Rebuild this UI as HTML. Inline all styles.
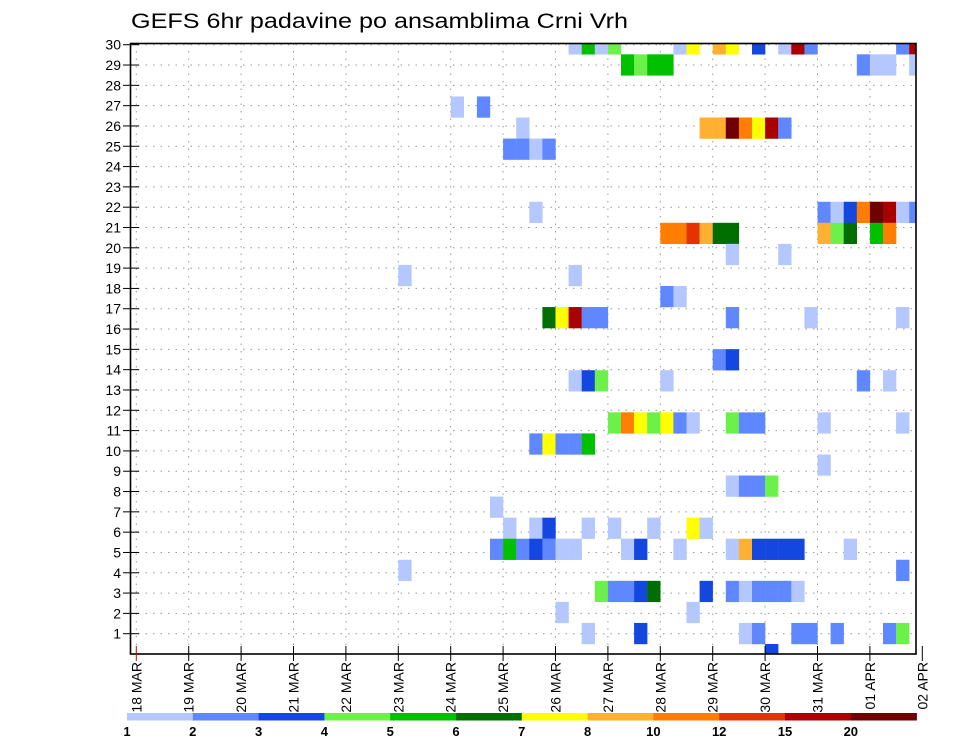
<!DOCTYPE html>
<html><head><meta charset="utf-8"><style>
html,body{margin:0;padding:0;background:#fff;}
svg{display:block;font-family:"Liberation Sans",sans-serif;}
</style></head><body>
<svg id="chart" width="960" height="742" viewBox="0 0 960 742" xmlns="http://www.w3.org/2000/svg">
<text x="131" y="28" font-size="21" textLength="497" lengthAdjust="spacingAndGlyphs" fill="#000">GEFS 6hr padavine po ansamblima Crni Vrh</text>
<defs><clipPath id="plotclip"><rect x="130.5" y="43.5" width="785.5" height="610.5"/></clipPath></defs>
<g id="grid"></g>
<g id="cells" clip-path="url(#plotclip)"></g>
<rect x="130.5" y="43.5" width="785.5" height="610.5" fill="none" stroke="#000" stroke-width="1.6"/>
<g id="axes"></g>
<g id="legend"></g>
</svg>
<script>
// member row index (0 = member 1 row), 6-hourly time step from 18 MAR 00Z, precipitation mm
const memberRow = [
28,28,28,28,28,28,28,28,28,28,28,28,28,28,
27,27,27,27,27,27,27,27,
25,25,
24,24,24,24,24,24,24,24,
23,23,23,23,
20,20,20,20,20,20,20,20,20,
19,19,19,19,19,19,19,19,19,19,19,
18,18,
17,17,
16,16,
15,15,15,15,15,15,15,15,
13,13,
12,12,12,12,12,12,
10,10,10,10,10,10,10,10,10,10,10,10,
9,9,9,9,9,
8,
7,7,7,7,
6,
5,5,5,5,5,5,5,5,
4,4,4,4,4,4,4,4,4,4,4,4,4,4,4,4,4,
3,3,
2,2,2,2,2,2,2,2,2,2,2,2,
1,1,
0,0,0,0,0,0,0,0,0,
-1];
const timeStep = [
33,34,35,36,41,42,44,45,47,49,50,51,58,59,
37,38,39,40,55,56,57,59,
24,26,
29,43,44,45,46,47,48,49,
28,29,30,31,
30,52,53,54,55,56,57,58,59,
40,41,42,43,44,45,52,53,54,56,57,
45,49,
20,33,
40,41,
31,32,33,34,35,45,51,58,
44,45,
33,34,35,40,55,57,
36,37,38,39,40,41,42,45,46,47,52,58,
30,31,32,33,34,
52,
45,46,47,48,
27,
28,30,31,34,36,39,42,43,
27,28,29,30,31,32,33,37,38,41,45,46,47,48,49,50,54,
20,58,
35,36,37,38,39,43,45,46,47,48,49,50,
32,42,
34,38,46,47,50,51,53,57,58,
48];
const precip = [
1.5,5.5,1.5,4.5,1.5,7.5,9,7.5,3.5,1.5,17,2.5,2.5,17,
5.5,4.5,5.5,5.5,2.5,1.5,1.5,1.5,
1.5,2.5,
1.5,9,9,22,11,7.5,17,2.5,
2.5,2.5,1.5,2.5,
1.5,2.5,1.5,3.5,11,22,17,1.5,2.5,
11,11,13.5,9,6.5,6.5,9,4.5,6.5,5.5,11,
1.5,1.5,
1.5,1.5,
2.5,1.5,
6.5,7.5,17,2.5,2.5,2.5,1.5,1.5,
2.5,3.5,
1.5,3.5,4.5,1.5,2.5,1.5,
4.5,11,7.5,4.5,7.5,2.5,1.5,4.5,2.5,2.5,1.5,1.5,
2.5,7.5,2.5,2.5,5.5,
1.5,
1.5,2.5,2.5,4.5,
1.5,
1.5,1.5,3.5,1.5,1.5,1.5,7.5,1.5,
2.5,5.5,2.5,3.5,2.5,1.5,1.5,1.5,3.5,1.5,1.5,9,3.5,3.5,3.5,3.5,1.5,
1.5,2.5,
4.5,2.5,2.5,3.5,6.5,3.5,2.5,1.5,2.5,2.5,2.5,1.5,
1.5,1.5,
1.5,3.5,1.5,2.5,2.5,2.5,2.5,2.5,4.5,
3.5];
const levels = [1,2,3,4,5,6,7,8,10,12,15,20];
const levelColors = ["#b4c8ff","#5f87ff","#1446e0","#6cf04a","#00c000","#006e00","#ffff00","#ffb030","#ff7d00","#e63200","#aa0000","#6e0000"];
const dayLabels = ["18 MAR","19 MAR","20 MAR","21 MAR","22 MAR","23 MAR","24 MAR","25 MAR","26 MAR","27 MAR","28 MAR","29 MAR","30 MAR","31 MAR","01 APR","02 APR"];
const memberLabels = [1,2,3,4,5,6,7,8,9,10,11,12,13,14,15,16,17,18,19,20,21,22,23,24,25,26,27,28,29,30];

const NS = "http://www.w3.org/2000/svg";
const X0 = 136.3, DAYW = 52.4, STEPW = DAYW / 4;
const CELLH = 21.06, CELLBASE = 644;
function xDay(d){ return X0 + DAYW * d; }
function xStep(s){ return X0 + STEPW * s; }
function yLabel(k){ return 633.7 - (k - 1) * 20.31; }
function yCellTop(r){ return CELLBASE - (r + 1) * CELLH; }
function colorFor(v){ let c = levelColors[0]; for (let i = 0; i < levels.length; i++) if (v >= levels[i]) c = levelColors[i]; return c; }
function mk(tag, attrs, parent){ const e = document.createElementNS(NS, tag); for (const k in attrs) e.setAttribute(k, attrs[k]); parent.appendChild(e); return e; }

const grid = document.getElementById('grid');
memberLabels.forEach(k => {
  const l = mk('line', {x1:130.5, x2:916, y1:yLabel(k), y2:yLabel(k), stroke:"#999", "stroke-width":1, "stroke-dasharray":"1.5,6"}, grid);
  
  
});
dayLabels.forEach((d, i) => {
  if (xDay(i) > 916) return;
  const l = mk('line', {x1:xDay(i), x2:xDay(i), y1:43.5, y2:654, stroke:"#999", "stroke-width":1, "stroke-dasharray":"1.5,6"}, grid);
  
  
});

const cells = document.getElementById('cells');
for (let i = 0; i < precip.length; i++) {
  const r = mk('rect', {x:xStep(timeStep[i]), y:yCellTop(memberRow[i]), width:STEPW+0.2, height:CELLH+0.2, fill:colorFor(precip[i])}, cells);
  
  
}

const axes = document.getElementById('axes');
memberLabels.forEach(k => {
  const y = yLabel(k);
  const t = mk('line', {x1:123, x2:139, y1:y, y2:y, stroke:"#000", "stroke-width":1}, axes);
  
  
  const tx = mk('text', {x:121, y:y+5, "font-size":14, "text-anchor":"end", fill:"#000"}, axes);
  tx.textContent = k;
  
  
});
dayLabels.forEach((d, i) => {
  const x = xDay(i);
  const t = mk('line', {x1:x, x2:x, y1:646, y2:661, stroke: i === 0 ? "#c00" : "#000", "stroke-width":1}, axes);
  
  
  const tx = mk('text', {x:0, y:0, "font-size":14, "text-anchor":"end", fill:"#000", transform:"translate(" + (x+5) + ",662) rotate(-90)"}, axes);
  tx.textContent = d;
  
  
});

const legend = document.getElementById('legend');
const LX0 = 127, LW = 65.8;
levelColors.forEach((c, i) => {
  const r = mk('rect', {x:LX0 + i*LW, y:713, width:LW+0.3, height:7.5, fill:c}, legend);
  
  
});
levels.forEach((v, i) => {
  const tx = mk('text', {x:LX0 + i*LW, y:736, "font-size":13, "font-weight":"bold", "text-anchor":"middle", fill:"#000"}, legend);
  tx.textContent = v;
  
  
});
</script>
</body></html>
